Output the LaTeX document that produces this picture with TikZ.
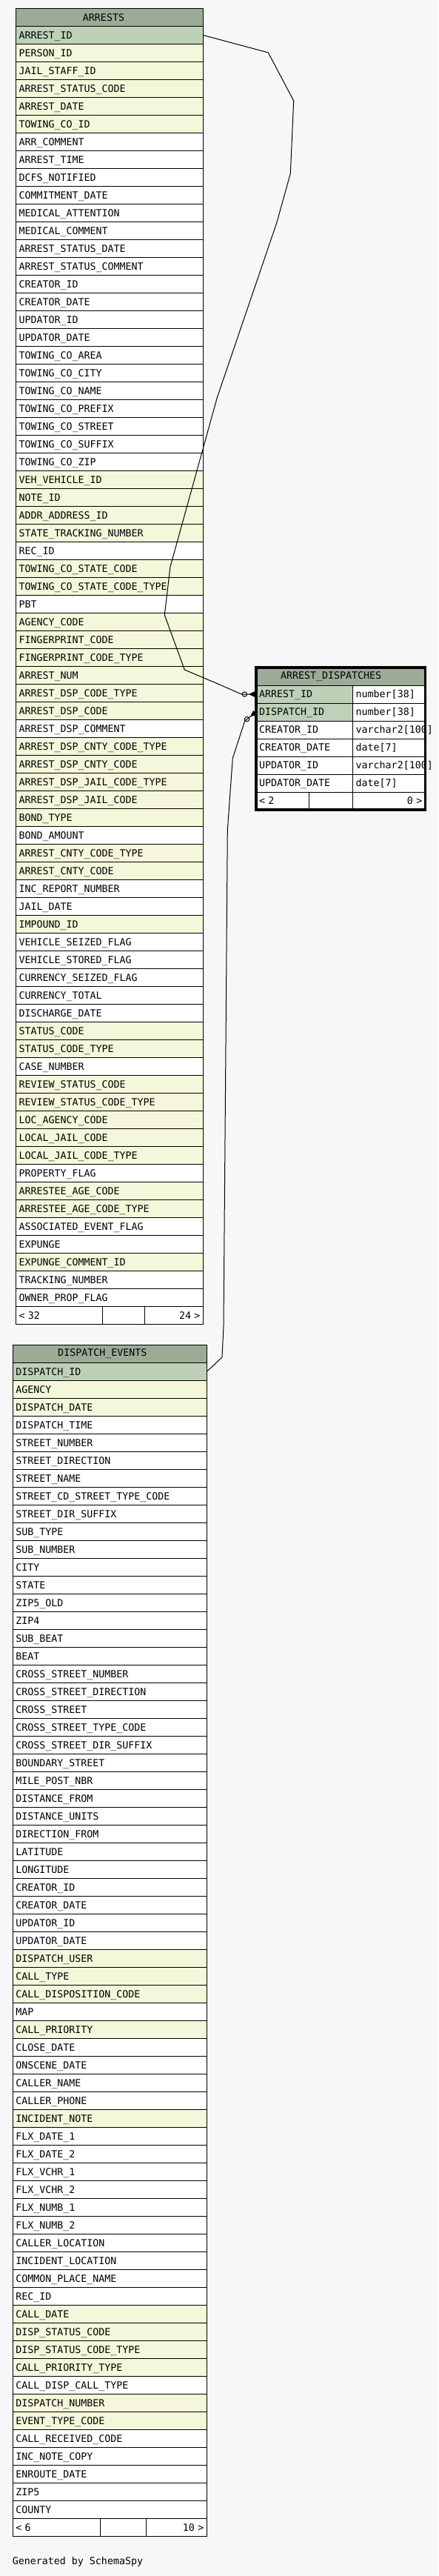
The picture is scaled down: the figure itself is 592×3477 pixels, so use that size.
\documentclass[tikz,border=0pt]{standalone}
\usepackage{fontspec}
\setmonofont{DejaVu Sans Mono}
\usepackage{tikz}
\usetikzlibrary{arrows.meta, positioning, calc}
\definecolor{headgreen}{HTML}{9BAB96}
\definecolor{keygreen}{HTML}{BED1B8}
\definecolor{idxyellow}{HTML}{F4F7DA}
\definecolor{pagegray}{HTML}{F7F7F7}

\begin{document}
\begin{tikzpicture}[x=1pt, y=-1pt, font=\ttfamily\fontsize{13.3}{16}\selectfont,
    cell/.style={draw, line width=1pt, anchor=north west, outer sep=0pt, minimum height=24pt, inner xsep=4pt, inner ysep=0pt, text height=9.7pt, text depth=0pt, align=left},
    head/.style={draw, line width=1pt, fill=headgreen, anchor=north west, outer sep=0pt, minimum height=24pt, inner sep=0pt},
    fk/.style={line width=1pt, -{Circle[open, length=7.4pt, sep=2pt] Triangle[reversed, length=8.3pt, width=7.7pt]}, shorten >=1.7pt}]
    \fill[pagegray] (0,0) rectangle (592,3477);
    \useasboundingbox (0,0) rectangle (592,3477);

    \node[head, minimum width=253pt] (arrests) at (21.5,11.5) {};
    \node[xshift=-8pt] (arrests-title) at (arrests.center) {ARRESTS};
    \foreach \col/\shade [count=\i] in {ARREST\_ID/keygreen, PERSON\_ID/idxyellow, JAIL\_STAFF\_ID/idxyellow, ARREST\_STATUS\_CODE/idxyellow, ARREST\_DATE/idxyellow, TOWING\_CO\_ID/idxyellow, ARR\_COMMENT/white, ARREST\_TIME/white, DCFS\_NOTIFIED/white, COMMITMENT\_DATE/white, MEDICAL\_ATTENTION/white, MEDICAL\_COMMENT/white, ARREST\_STATUS\_DATE/white, ARREST\_STATUS\_COMMENT/white, CREATOR\_ID/white, CREATOR\_DATE/white, UPDATOR\_ID/white, UPDATOR\_DATE/white, TOWING\_CO\_AREA/white, TOWING\_CO\_CITY/white, TOWING\_CO\_NAME/white, TOWING\_CO\_PREFIX/white, TOWING\_CO\_STREET/white, TOWING\_CO\_SUFFIX/white, TOWING\_CO\_ZIP/white, VEH\_VEHICLE\_ID/idxyellow, NOTE\_ID/idxyellow, ADDR\_ADDRESS\_ID/idxyellow, STATE\_TRACKING\_NUMBER/idxyellow, REC\_ID/white, TOWING\_CO\_STATE\_CODE/idxyellow, TOWING\_CO\_STATE\_CODE\_TYPE/idxyellow, PBT/white, AGENCY\_CODE/idxyellow, FINGERPRINT\_CODE/idxyellow, FINGERPRINT\_CODE\_TYPE/idxyellow, ARREST\_NUM/idxyellow, ARREST\_DSP\_CODE\_TYPE/idxyellow, ARREST\_DSP\_CODE/idxyellow, ARREST\_DSP\_COMMENT/white, ARREST\_DSP\_CNTY\_CODE\_TYPE/idxyellow, ARREST\_DSP\_CNTY\_CODE/idxyellow, ARREST\_DSP\_JAIL\_CODE\_TYPE/idxyellow, ARREST\_DSP\_JAIL\_CODE/idxyellow, BOND\_TYPE/idxyellow, BOND\_AMOUNT/white, ARREST\_CNTY\_CODE\_TYPE/idxyellow, ARREST\_CNTY\_CODE/idxyellow, INC\_REPORT\_NUMBER/white, JAIL\_DATE/white, IMPOUND\_ID/idxyellow, VEHICLE\_SEIZED\_FLAG/white, VEHICLE\_STORED\_FLAG/white, CURRENCY\_SEIZED\_FLAG/white, CURRENCY\_TOTAL/white, DISCHARGE\_DATE/white, STATUS\_CODE/idxyellow, STATUS\_CODE\_TYPE/idxyellow, CASE\_NUMBER/white, REVIEW\_STATUS\_CODE/idxyellow, REVIEW\_STATUS\_CODE\_TYPE/idxyellow, LOC\_AGENCY\_CODE/idxyellow, LOCAL\_JAIL\_CODE/idxyellow, LOCAL\_JAIL\_CODE\_TYPE/idxyellow, PROPERTY\_FLAG/white, ARRESTEE\_AGE\_CODE/idxyellow, ARRESTEE\_AGE\_CODE\_TYPE/idxyellow, ASSOCIATED\_EVENT\_FLAG/white, EXPUNGE/white, EXPUNGE\_COMMENT\_ID/idxyellow, TRACKING\_NUMBER/white, OWNER\_PROP\_FLAG/white}
        \node[cell, fill=\shade, text width=245pt] (arrests-\i) at (21.5, 11.5+24*\i) {\col};
    \node[cell, fill=white, text width=108.8pt] (arrests-foot-l) at (21.5,1763.5) {< 32};
    \node[cell, fill=white, text width=49.4pt, right=0pt of arrests-foot-l] (arrests-foot-m) {};
    \node[cell, fill=white, text width=70.8pt, align=right, right=0pt of arrests-foot-m] (arrests-foot-r) {24 >};

    \node[head, minimum width=262pt] (dispatch) at (17.3,1815.3) {};
    \node[xshift=-10pt] (dispatch-title) at (dispatch.center) {DISPATCH\_EVENTS};
    \foreach \col/\shade [count=\i] in {DISPATCH\_ID/keygreen, AGENCY/idxyellow, DISPATCH\_DATE/idxyellow, DISPATCH\_TIME/white, STREET\_NUMBER/white, STREET\_DIRECTION/white, STREET\_NAME/white, STREET\_CD\_STREET\_TYPE\_CODE/white, STREET\_DIR\_SUFFIX/white, SUB\_TYPE/white, SUB\_NUMBER/white, CITY/white, STATE/white, ZIP5\_OLD/white, ZIP4/white, SUB\_BEAT/white, BEAT/white, CROSS\_STREET\_NUMBER/white, CROSS\_STREET\_DIRECTION/white, CROSS\_STREET/white, CROSS\_STREET\_TYPE\_CODE/white, CROSS\_STREET\_DIR\_SUFFIX/white, BOUNDARY\_STREET/white, MILE\_POST\_NBR/white, DISTANCE\_FROM/white, DISTANCE\_UNITS/white, DIRECTION\_FROM/white, LATITUDE/white, LONGITUDE/white, CREATOR\_ID/white, CREATOR\_DATE/white, UPDATOR\_ID/white, UPDATOR\_DATE/white, DISPATCH\_USER/idxyellow, CALL\_TYPE/idxyellow, CALL\_DISPOSITION\_CODE/idxyellow, MAP/white, CALL\_PRIORITY/idxyellow, CLOSE\_DATE/white, ONSCENE\_DATE/white, CALLER\_NAME/white, CALLER\_PHONE/white, INCIDENT\_NOTE/idxyellow, FLX\_DATE\_1/white, FLX\_DATE\_2/white, FLX\_VCHR\_1/white, FLX\_VCHR\_2/white, FLX\_NUMB\_1/white, FLX\_NUMB\_2/white, CALLER\_LOCATION/white, INCIDENT\_LOCATION/white, COMMON\_PLACE\_NAME/white, REC\_ID/white, CALL\_DATE/idxyellow, DISP\_STATUS\_CODE/idxyellow, DISP\_STATUS\_CODE\_TYPE/idxyellow, CALL\_PRIORITY\_TYPE/idxyellow, CALL\_DISP\_CALL\_TYPE/white, DISPATCH\_NUMBER/idxyellow, EVENT\_TYPE\_CODE/idxyellow, CALL\_RECEIVED\_CODE/white, INC\_NOTE\_COPY/white, ENROUTE\_DATE/white, ZIP5/white, COUNTY/white}
        \node[cell, fill=\shade, text width=254pt] (dispatch-\i) at (17.3, 1815.3+24*\i) {\col};
    \node[cell, fill=white, text width=110.4pt] (dispatch-foot-l) at (17.3,3399.3) {< 6};
    \node[cell, fill=white, text width=54pt, right=0pt of dispatch-foot-l] (dispatch-foot-m) {};
    \node[cell, fill=white, text width=73.6pt, align=right, right=0pt of dispatch-foot-m] (dispatch-foot-r) {10 >};

    \node[head, minimum width=228.3pt] (ad) at (346,901) {};
    \node[xshift=-13pt] (ad-title) at (ad.center) {ARREST\_DISPATCHES};
    \foreach \col/\kind/\shade [count=\i] in {ARREST\_ID/number[38]/keygreen, DISPATCH\_ID/number[38]/keygreen, CREATOR\_ID/varchar2[100]/white, CREATOR\_DATE/date[7]/white, UPDATOR\_ID/varchar2[100]/white, UPDATOR\_DATE/date[7]/white} {
        \node[cell, fill=\shade, text width=122.7pt] (ad-\i) at (346, 901+24*\i) {\col};
        \node[cell, fill=white, text width=89.6pt, right=0pt of ad-\i] (ad-type-\i) {\kind};
    }
    \node[cell, fill=white, text width=63.3pt] (ad-foot-l) at (346,1069) {< 2};
    \node[cell, fill=white, text width=51.4pt, right=0pt of ad-foot-l] (ad-foot-m) {};
    \node[cell, fill=white, text width=89.6pt, align=right, right=0pt of ad-foot-m] (ad-foot-r) {0 >};
    \draw[line width=3.3pt] (ad.north west) rectangle (ad-foot-r.south east);

    \draw[fk] (arrests-1.east) -- (362.3,71) -- (396.7,136) -- (392.3,234.3) -- (374,300) -- (293.3,536.7) -- (230,765) -- (222.3,830) -- (249.3,904) -- (295,923.3) -- (326.3,937) -- (ad-1.west);
    \draw[fk] (dispatch-1.east) -- (300,1832) -- (302,1790) -- (307.3,1120) -- (314.3,1023.3) -- (330.8,972.8) -- (ad-2.west);

    \node[anchor=west, inner sep=0pt] (credit) at (16.7,3458) {Generated by SchemaSpy};
\end{tikzpicture}
\end{document}
